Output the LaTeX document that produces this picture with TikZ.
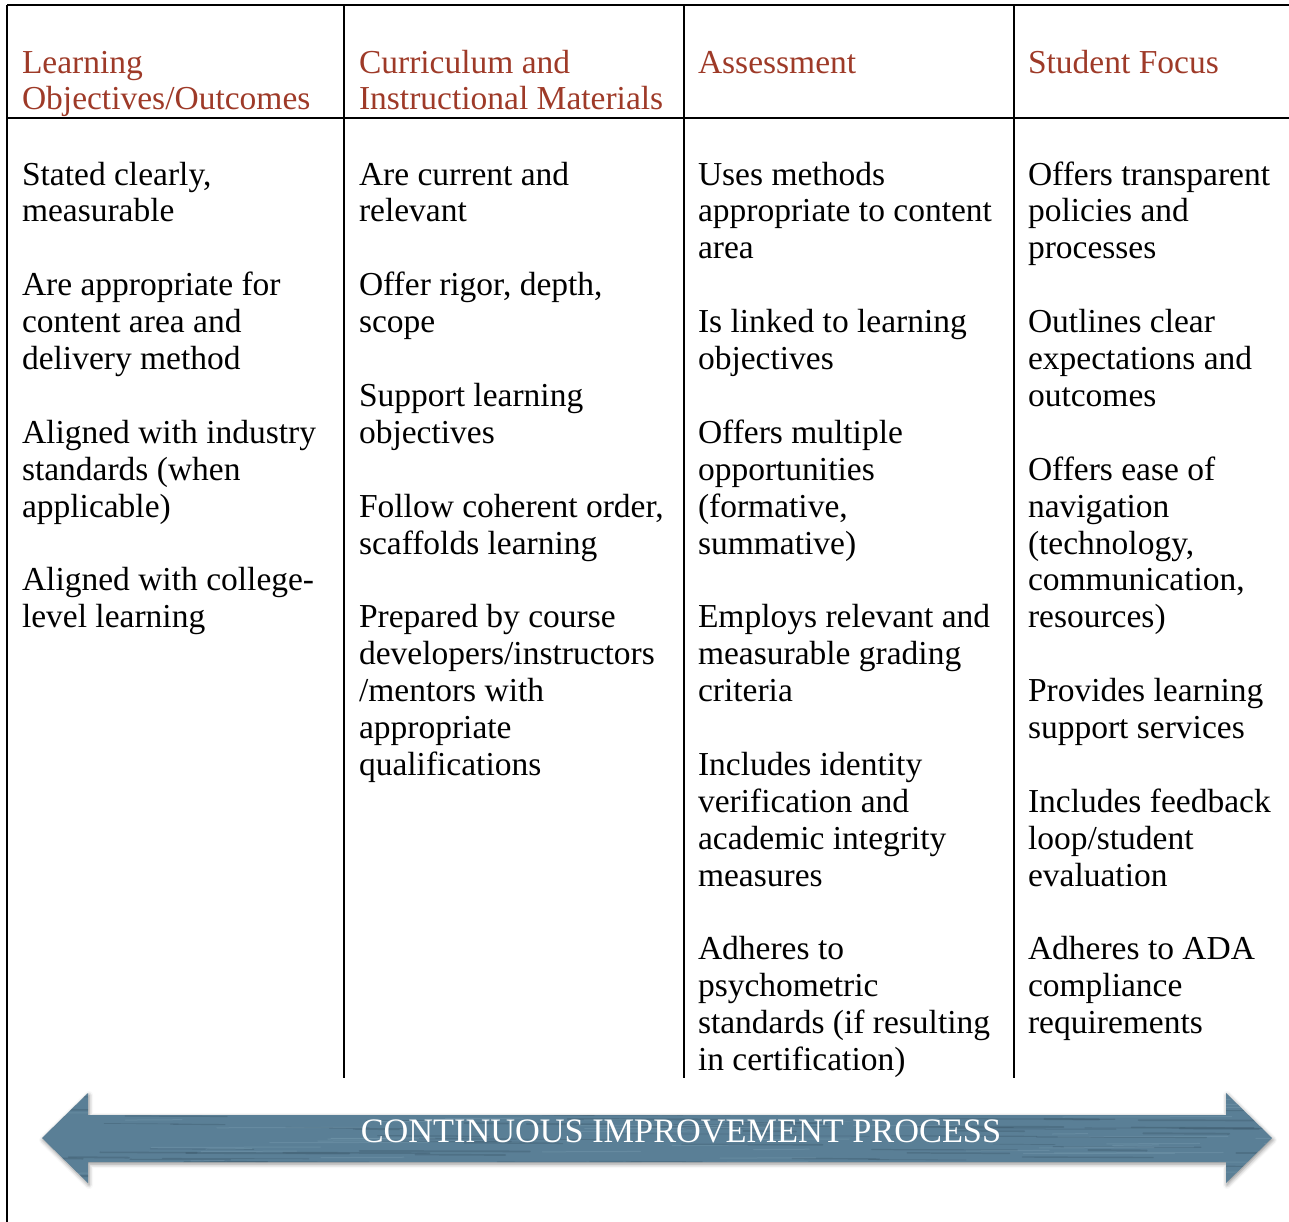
\documentclass[tikz,border=0pt]{standalone}
\usepackage{fontspec}
\setmainfont{Liberation Serif}
\usetikzlibrary{shadows.blur}
\definecolor{headred}{RGB}{158,58,40}
\definecolor{arrowblue}{RGB}{90,127,150}
\definecolor{streakdark}{RGB}{50,75,92}
\definecolor{streaklight}{RGB}{130,165,185}
\begin{document}
\begin{tikzpicture}[x=1pt,y=-1pt,
  rule/.style={line width=2pt,black},
  headtxt/.style={anchor=base west,inner sep=0pt,outer sep=0pt,align=left,text=headred,
    font=\fontsize{33.5}{36}\selectfont},
  bodytxt/.style={anchor=base west,inner sep=0pt,outer sep=0pt,align=left,text=black,
    font=\fontsize{33.5}{36.9}\selectfont},
  arrowtxt/.style={anchor=base,inner sep=0pt,text=white,font=\fontsize{34.3}{36}\selectfont}]
\useasboundingbox (0,0) rectangle (1289,1222);
% grid coordinates
\coordinate (tl) at (7,5);
\coordinate (tr) at (1289,5);
\coordinate (hl) at (7,118);
\coordinate (hr) at (1289,118);
\coordinate (bl) at (7,1222);
\coordinate (c1t) at (344,5);  \coordinate (c1b) at (344,1078);
\coordinate (c2t) at (684,5);  \coordinate (c2b) at (684,1078);
\coordinate (c3t) at (1014,5); \coordinate (c3b) at (1014,1078);
\draw[rule] (tl) -- (tr);
\draw[rule] (hl) -- (hr);
\draw[rule] (tl) -- (bl);
\draw[rule] (c1t) -- (c1b);
\draw[rule] (c2t) -- (c2b);
\draw[rule] (c3t) -- (c3b);
% headers (anchor = baseline of the last line)
\node[headtxt] (h1) at (22,109.5) {Learning\\Objectives/Outcomes};
\node[headtxt] (h2) at (359,109.5) {Curriculum and\\Instructional Materials};
\node[headtxt] (h3) at (698,73.5) {Assessment};
\node[headtxt] (h4) at (1028,73.5) {Student Focus};
% bodies (anchor = baseline of the last line; line k at 185+36.9k)
\node[bodytxt] (b1) at (22,627.8) {Stated clearly,\\measurable\\[36.9pt]
Are appropriate for\\content area and\\delivery method\\[36.9pt]
Aligned with industry\\standards (when\\applicable)\\[36.9pt]
Aligned with college-\\level learning};
\node[bodytxt] (b2) at (359,775.4) {Are current and\\relevant\\[36.9pt]
Offer rigor, depth,\\scope\\[36.9pt]
Support learning\\objectives\\[36.9pt]
Follow coherent order,\\scaffolds learning\\[36.9pt]
Prepared by course\\developers/instructors\\/mentors with\\appropriate\\qualifications};
\node[bodytxt] (b3) at (698,1070.6) {Uses methods\\appropriate to content\\area\\[36.9pt]
Is linked to learning\\objectives\\[36.9pt]
Offers multiple\\opportunities\\(formative,\\summative)\\[36.9pt]
Employs relevant and\\measurable grading\\criteria\\[36.9pt]
Includes identity\\verification and\\academic integrity\\measures\\[36.9pt]
Adheres to\\psychometric\\standards (if resulting\\in certification)};
\node[bodytxt] (b4) at (1028,1033.7) {Offers transparent\\policies and\\processes\\[36.9pt]
Outlines clear\\expectations and\\outcomes\\[36.9pt]
Offers ease of\\navigation\\(technology,\\communication,\\resources)\\[36.9pt]
Provides learning\\support services\\[36.9pt]
Includes feedback\\loop/student\\evaluation\\[36.9pt]
Adheres to ADA\\compliance\\requirements};
% arrow
\def\arrowpath{(42,1138) -- (88,1093) -- (88,1115) -- (1226,1115) -- (1226,1093) -- (1272,1138) -- (1226,1183) -- (1226,1162) -- (88,1162) -- (88,1183) -- cycle}
\fill[arrowblue,blur shadow={shadow xshift=1pt,shadow yshift=-2pt,shadow blur radius=4pt,shadow opacity=45}] \arrowpath;
\begin{scope}
  \clip \arrowpath;
  \pgfmathsetseed{7}
  \foreach \i in {1,...,140}{
    \pgfmathsetmacro\sx{30+rnd*1240}
    \pgfmathsetmacro\sy{1092+rnd*92}
    \pgfmathsetmacro\sl{30+rnd*160}
    \pgfmathsetmacro\sw{0.6+rnd*1.4}
    \draw[streakdark,opacity=0.28,line width=\sw pt,line cap=round] (\sx,\sy) -- ++(\sl,0.5);
  }
  \foreach \i in {1,...,80}{
    \pgfmathsetmacro\sx{30+rnd*1240}
    \pgfmathsetmacro\sy{1092+rnd*92}
    \pgfmathsetmacro\sl{30+rnd*140}
    \draw[streaklight,opacity=0.3,line width=1pt,line cap=round] (\sx,\sy) -- ++(\sl,-0.4);
  }
\end{scope}
\node[arrowtxt] (at) at (681,1142) {CONTINUOUS IMPROVEMENT PROCESS};
\end{tikzpicture}
\end{document}
